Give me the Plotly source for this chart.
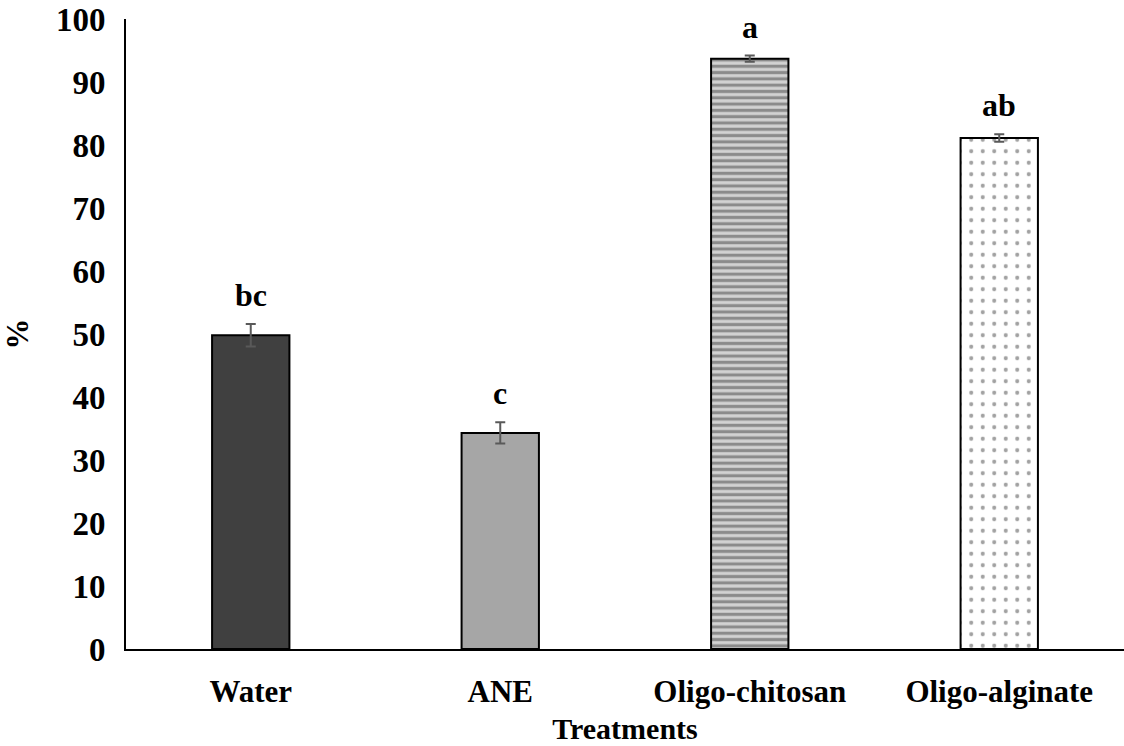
import plotly.graph_objects as go

categories = ["Water", "ANE", "Oligo-chitosan", "Oligo-alginate"]
values = [49.8, 34.3, 93.7, 81.1]
errors = [1.8, 1.7, 0.5, 0.6]
letters = ["bc", "c", "a", "ab"]
y_ticks = [0, 10, 20, 30, 40, 50, 60, 70, 80, 90, 100]

colors = ["#404040", "#a6a6a6", "#d2d2d2", "#ffffff"]
shapes = ["", "", "-", "."]
fgcolors = ["#404040", "#a6a6a6", "#2a2a2a", "#1e1e1e"]
sizes = [8, 8, 6.3, 11.5]
solidity = [0.3, 0.3, 0.5, 0.1]

FONT = "Liberation Serif, Times New Roman, serif"

fig = go.Figure()
fig.add_trace(go.Bar(
    x=categories, y=values,
    width=0.31,
    marker=dict(
        color=colors,
        line=dict(color="black", width=2),
        pattern=dict(shape=shapes, fgcolor=fgcolors,
                     size=sizes, solidity=solidity, fillmode="overlay"),
    ),
    error_y=dict(type="data", array=errors, visible=True,
                 color="#595959", thickness=2, width=5),
    showlegend=False,
))

for c, v, e, t in zip(categories, values, errors, letters):
    fig.add_annotation(x=c, y=v + e, text=t, showarrow=False,
                       yanchor="bottom", yshift=9,
                       font=dict(family=FONT, size=32, color="black", weight="bold"))

fig.update_layout(
    width=1124, height=746,
    margin=dict(l=126, r=0, t=19, b=97),
    plot_bgcolor="white", paper_bgcolor="white",
    font=dict(family=FONT, color="black", size=31),
    bargap=0.69,
)
fig.update_yaxes(range=[0, 100], tickvals=y_ticks, showgrid=False,
                 showline=True, linecolor="black", linewidth=2,
                 ticks="", ticklabelstandoff=12,
                 tickfont=dict(family=FONT, size=33, weight="bold"),
                 title=dict(text="%", font=dict(family=FONT, size=31, weight="bold"),
                            standoff=20))
fig.update_xaxes(showline=True, linecolor="black", linewidth=2, ticks="",
                 tickfont=dict(family=FONT, size=31, weight="bold"),
                 ticklabelstandoff=14,
                 title=dict(text="Treatments", font=dict(family=FONT, size=30, weight="bold"),
                            standoff=10))

fig.write_html("out.html")
